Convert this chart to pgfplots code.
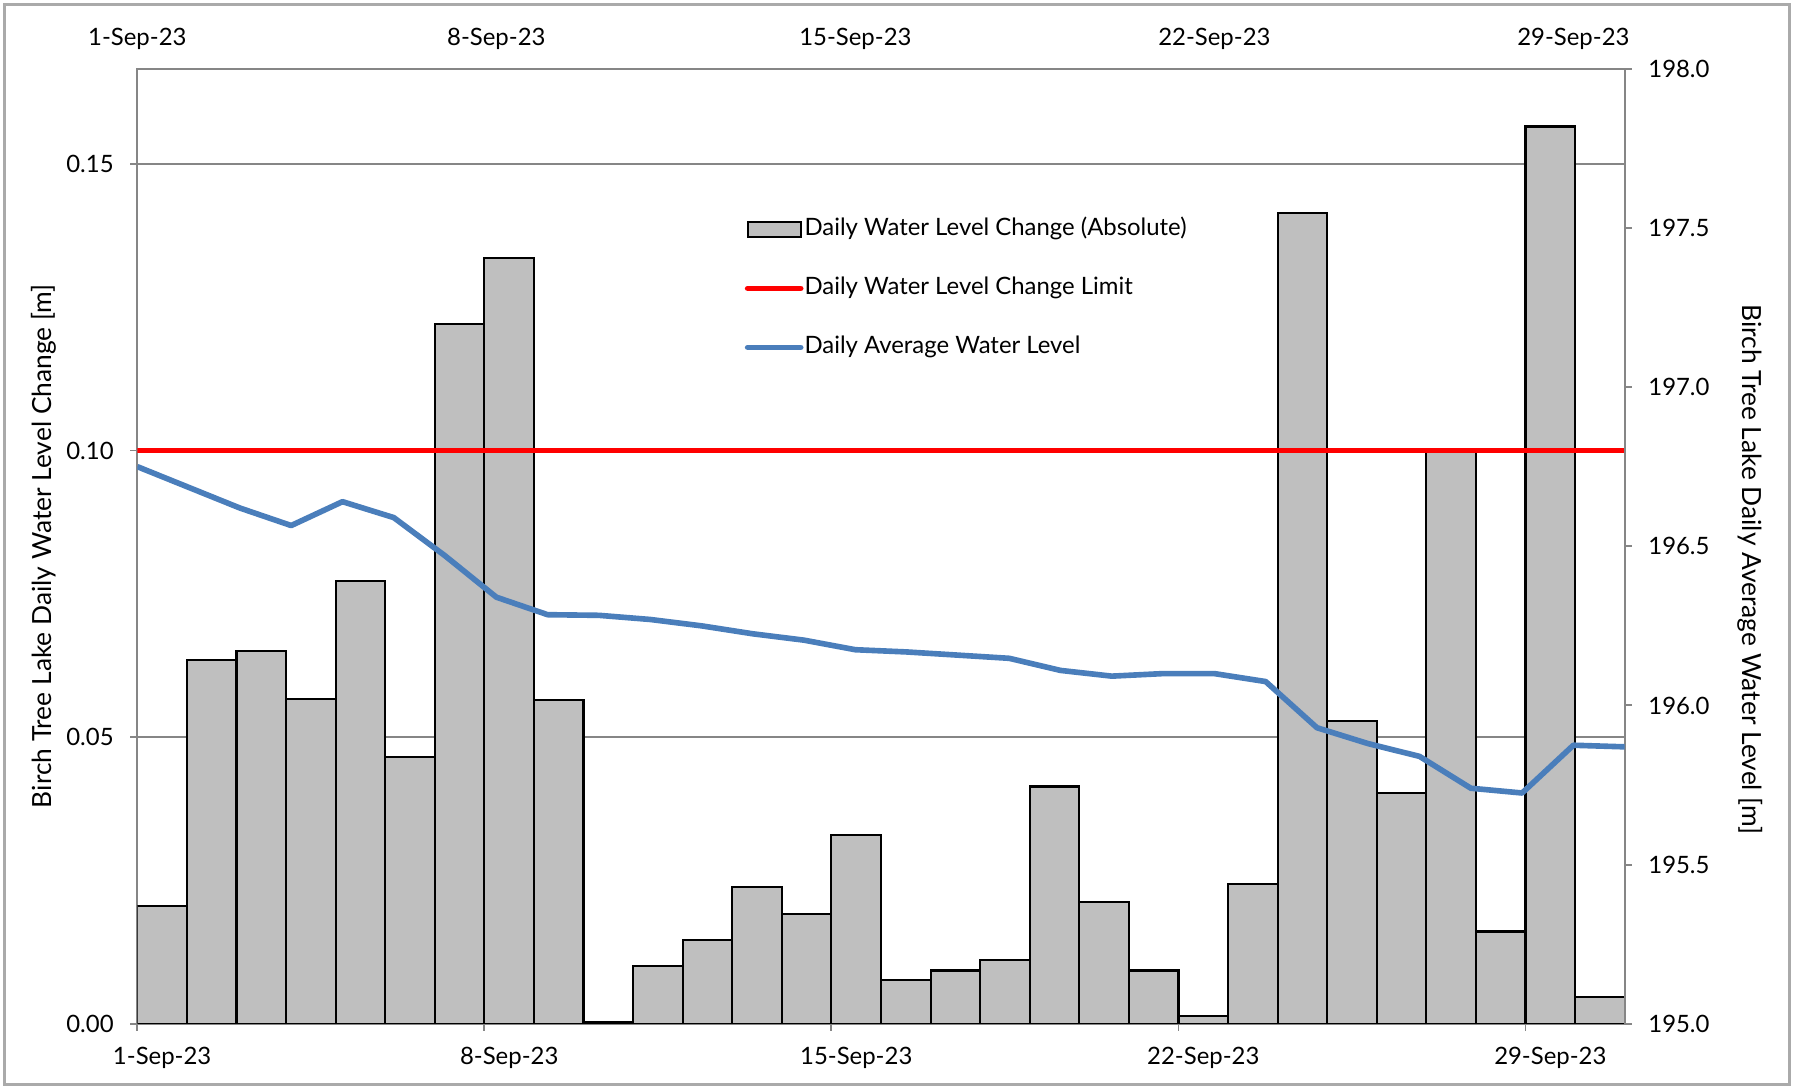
\documentclass[border=0pt]{standalone}
\usepackage{fontspec}
\setmainfont{Lato}
\usepackage{pgfplots}
\pgfplotsset{compat=1.18}
\definecolor{barfill}{RGB}{191,191,191}
\definecolor{lvlblue}{RGB}{74,126,187}
\definecolor{axisgray}{RGB}{134,134,134}

\begin{document}
\begin{tikzpicture}[font=\fontsize{6.8}{8}\selectfont]
\path[use as bounding box] (-13.73mm,-6.52mm) rectangle (165.63mm,102.36mm);
\draw[axisgray!70, line width=0.3mm] (-13.3mm,-6.1mm) rectangle (165.2mm,101.9mm);

% left axis: daily change bars and limit
\begin{axis}[
    scale only axis, width=148.7mm, height=95.5mm,
    xmin=0, xmax=30, ymin=0, ymax=0.1666,
    axis line style={axisgray, line width=0.55pt},
    tick pos=left, tick align=outside, major tick length=0.7mm,
    tick style={axisgray, line width=0.55pt},
    xtick={0,7,14,21,28},
    xticklabels={1-Sep-23,8-Sep-23,15-Sep-23,22-Sep-23,29-Sep-23},
    xticklabel style={anchor=base, inner sep=0pt, xshift=2.48mm, yshift=-3.4mm},
    ytick={0,0.05,0.1,0.15},
    yticklabel style={anchor=east, inner sep=0pt, xshift=-1.6mm,
        /pgf/number format/.cd, fixed, fixed zerofill, precision=2},
    /pgf/number format/assume math mode=true,
    ymajorgrids, grid style={axisgray, line width=0.55pt},
    ylabel={Birch Tree Lake Daily Water Level Change [m]},
    ylabel style={at={(axis description cs:-0.0632,0.5)}, anchor=center, inner sep=0pt,
        font=\fontsize{7.5}{9}\selectfont},
    legend style={at={(rel axis cs:0.408,0.845)}, anchor=north west, draw=none, fill=none,
        inner sep=0pt, row sep=3.5mm, column sep=0.1mm,
        nodes={inner sep=0pt, text height=1.8mm, text depth=0.6mm}},
    legend cell align=left,
]
\addplot[ybar, bar width=1, bar shift=0pt, fill=barfill, draw=black, line width=0.6pt,
    legend image code/.code={\draw[fill=barfill, draw=black, line width=0.6pt] (0mm,-0.75mm) rectangle (5.3mm,0.75mm);}]
coordinates {
(0.5,0.0205) (1.5,0.0634) (2.5,0.0651) (3.5,0.0567) (4.5,0.0772)
(5.5,0.0466) (6.5,0.1221) (7.5,0.1335) (8.5,0.0565) (9.5,0.0003)
(10.5,0.0101) (11.5,0.0147) (12.5,0.0238) (13.5,0.0191) (14.5,0.0330)
(15.5,0.0077) (16.5,0.0093) (17.5,0.0111) (18.5,0.0414) (19.5,0.0212)
(20.5,0.0093) (21.5,0.0013) (22.5,0.0244) (23.5,0.1414) (24.5,0.0528)
(25.5,0.0402) (26.5,0.1000) (27.5,0.0161) (28.5,0.1565) (29.5,0.0047)
};
\addlegendentry{Daily Water Level Change (Absolute)}
\addplot[red, line width=1.6pt,
    legend image code/.code={\draw[red, line width=1.6pt, line cap=round] (0mm,0mm) -- (5.3mm,0mm);}]
coordinates {(0,0.1) (30,0.1)};
\addlegendentry{Daily Water Level Change Limit}
\addlegendimage{legend image code/.code={\draw[lvlblue, line width=1.6pt, line cap=round] (0mm,0mm) -- (5.3mm,0mm);}}
\addlegendentry{Daily Average Water Level}
\end{axis}

% right axis: daily average level
\begin{axis}[
    scale only axis, width=148.7mm, height=95.5mm,
    xmin=0, xmax=29, ymin=195, ymax=198,
    axis x line*=top, axis y line*=right,
    x axis line style={draw=none},
    y axis line style={axisgray, line width=0.55pt},
    tick align=outside, major tick length=0.7mm,
    x tick style={draw=none},
    y tick style={axisgray, line width=0.55pt},
    xtick={0,7,14,21,28},
    xticklabels={1-Sep-23,8-Sep-23,15-Sep-23,22-Sep-23,29-Sep-23},
    xticklabel style={anchor=base, inner sep=0pt, yshift=1.65mm},
    ytick={195,195.5,196,196.5,197,197.5,198},
    yticklabel style={anchor=west, inner sep=0pt, xshift=1.6mm,
        /pgf/number format/.cd, fixed, fixed zerofill, precision=1},
    /pgf/number format/assume math mode=true,
    ylabel={Birch Tree Lake Daily Average Water Level [m]},
    ylabel style={at={(axis description cs:1.0847,0.476)}, anchor=center, inner sep=0pt, rotate=180,
        font=\fontsize{7.5}{9}\selectfont},
]
\addplot[lvlblue, line width=1.6pt, line join=round] coordinates {
(0,196.75) (1,196.685) (2,196.62) (3,196.565) (4,196.64)
(5,196.59) (6,196.47) (7,196.34) (8,196.285) (9,196.283)
(10,196.27) (11,196.25) (12,196.225) (13,196.205) (14,196.175)
(15,196.168) (16,196.158) (17,196.148) (18,196.11) (19,196.092)
(20,196.1) (21,196.1) (22,196.075) (23,195.93) (24,195.88)
(25,195.84) (26,195.74) (27,195.725) (28,195.875) (29,195.87)
};
\end{axis}
\end{tikzpicture}
\end{document}
